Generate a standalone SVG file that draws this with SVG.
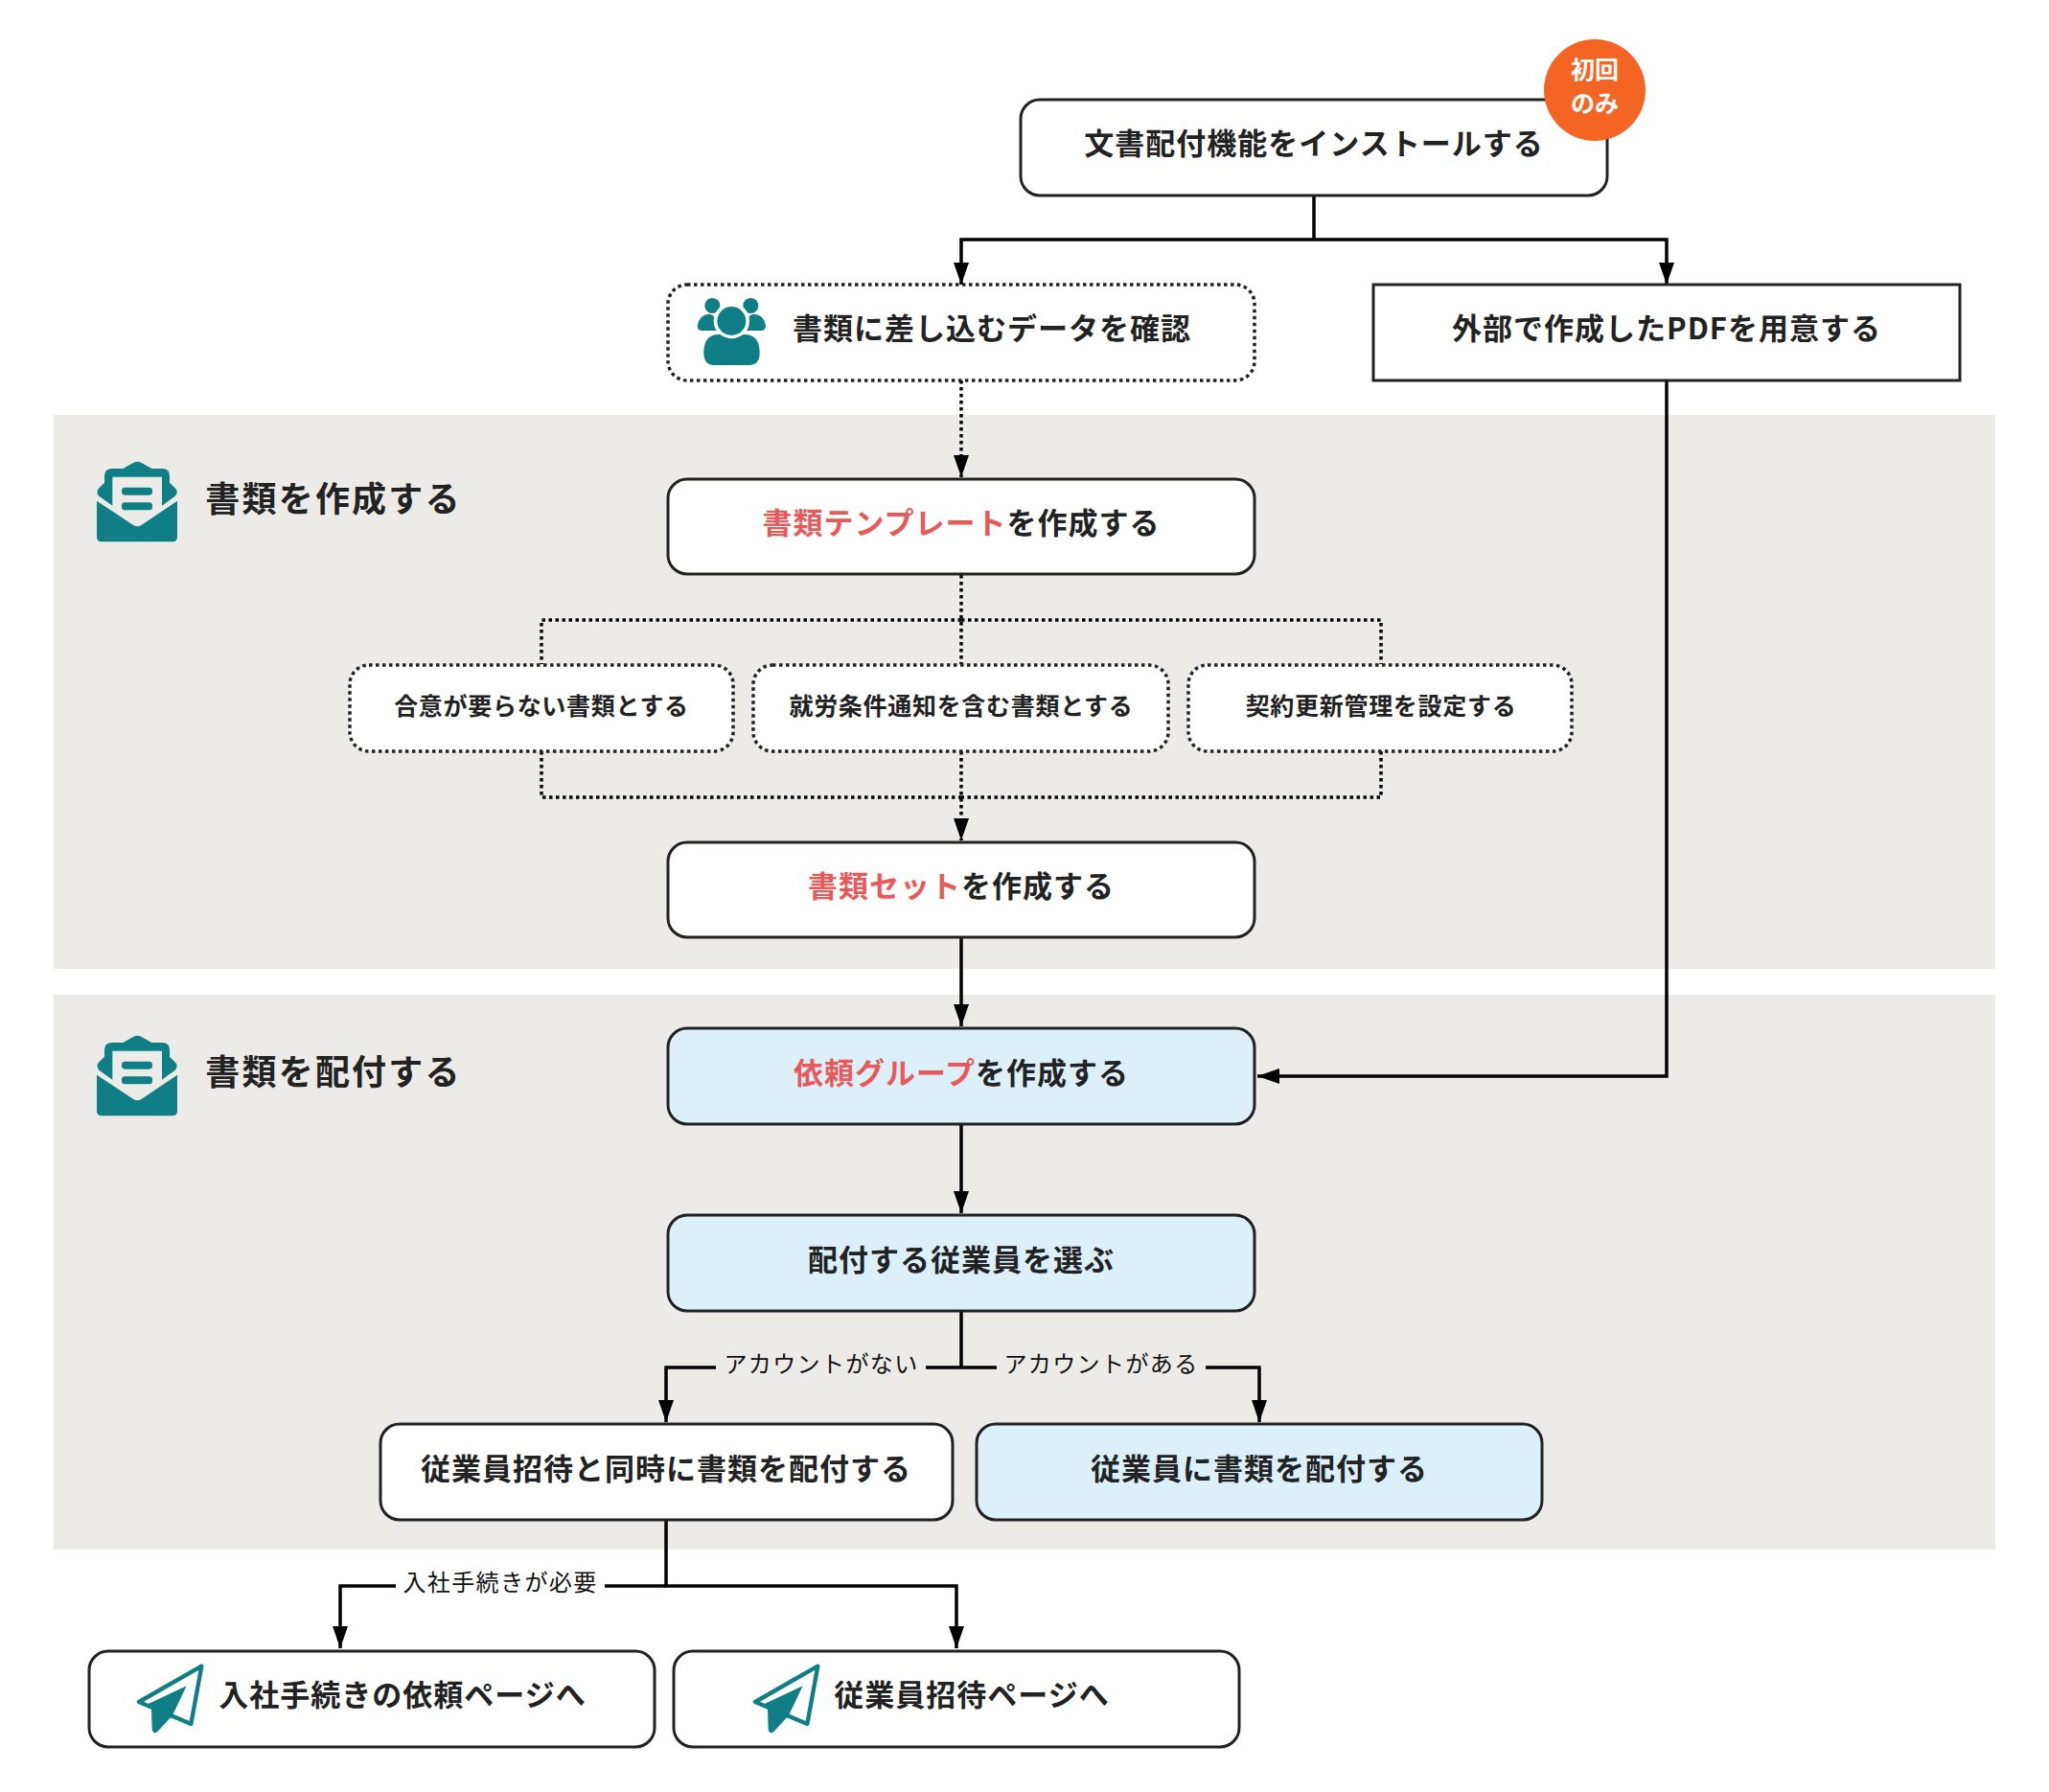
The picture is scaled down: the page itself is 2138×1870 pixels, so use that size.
<svg xmlns="http://www.w3.org/2000/svg" xmlns:xlink="http://www.w3.org/1999/xlink" width="2138" height="1870" viewBox="0 0 2138 1870">
<style>
text{font-family:"Noto Sans CJK JP","Noto Sans",sans-serif;fill:#222;text-anchor:middle}
.t{font-size:31px;font-weight:700;letter-spacing:1px}
.s{font-size:25px;font-weight:700;letter-spacing:.7px}
.h{font-size:36px;font-weight:700;letter-spacing:2.2px}
.l{font-size:24px;font-weight:400;letter-spacing:1.4px;fill:#111}
.b{font-size:25px;font-weight:700;fill:#fff}
.red{fill:#e85a5a}
.box{fill:#fff;stroke:#222;stroke-width:3}
.blue{fill:#dcf0fa}
.dot{stroke-dasharray:3.5 3.5;stroke-width:3.5}
.band{fill:#ecebe7}
.c{fill:none;stroke:#000;stroke-width:3.5}
.teal{fill:#0f7f85}
</style>
<defs>
<marker id="arrow" markerUnits="userSpaceOnUse" markerWidth="25" markerHeight="18" refX="23" refY="9" orient="auto"><path d="M0 1L23 9L0 17Z" fill="#000"/></marker>
<g id="mail" transform="scale(.3333)">
<path class="teal" d="M110 8Q127-4 144 8L172 24H205Q228 24 228 47V68L245 85Q258 97 245 110L204 140V50H49V140L7 110Q-5 97 7 85L24 68V47Q24 24 47 24H82Z"/>
<path class="teal" d="M0 125L110 198Q127 212 144 198L252 125V238Q252 253 238 253H14Q0 253 0 238Z"/>
<rect class="teal" x="78" y="83" width="96" height="24" rx="10"/>
<rect class="teal" x="78" y="130" width="96" height="24" rx="10"/>
</g>
<g id="plane" transform="scale(.3333)">
<path d="M205 8L9 120L172 189Z" fill="none" stroke="#0f7f85" stroke-width="13" stroke-linejoin="round"/>
<path class="teal" d="M158 70L30 130L48 142L50 208Q56 224 68 212L114 162Z"/>
</g>
</defs>
<g id="bands">
<rect class="band" x="56" y="433" width="2026" height="578"/>
<rect class="band" x="56" y="1038" width="2026" height="579"/>
</g>
<g id="connectors" class="connectors">
<path class="c" d="M1371 204V250"/>
<path class="c" d="M1371 250H1003V297" marker-end="url(#arrow)"/>
<path class="c" d="M1371 250H1739V297" marker-end="url(#arrow)"/>
<path class="c" d="M1739 397V1123H1312" marker-end="url(#arrow)"/>
<path class="c dot" d="M1003 397V498" marker-end="url(#arrow)"/>
<path class="c dot" d="M1003 600V693"/>
<path class="c dot" d="M1003 647H565V693"/>
<path class="c dot" d="M1003 647H1441V693"/>
<path class="c dot" d="M565 784V832H1003"/>
<path class="c dot" d="M1441 784V832H1003"/>
<path class="c dot" d="M1003 784V877" marker-end="url(#arrow)"/>
<path class="c" d="M1003 978V1071" marker-end="url(#arrow)"/>
<path class="c" d="M1003 1173V1266" marker-end="url(#arrow)"/>
<path class="c" d="M1003 1368V1427"/>
<path class="c" d="M966 1427H1040"/>
<path class="c" d="M747 1427H695V1484" marker-end="url(#arrow)"/>
<path class="c" d="M1258 1427H1314V1484" marker-end="url(#arrow)"/>
<path class="c" d="M695 1586V1655H998V1720" marker-end="url(#arrow)"/>
<path class="c" d="M695 1655H631"/>
<path class="c" d="M413 1655H355V1720" marker-end="url(#arrow)"/>
<text class="l" x="857" y="1432">アカウントがない</text>
<text class="l" x="1149" y="1432">アカウントがある</text>
<text class="l" x="522" y="1660">入社手続きが必要</text>
</g>
<g id="node-install">
<rect class="box" x="1065" y="104" width="612" height="100" rx="20"/>
<text class="t" x="1371" y="161">文書配付機能をインストールする</text>
</g>
<g id="badge-first">
<circle cx="1664" cy="94" r="53" fill="#f46524"/>
<text class="b" x="1664" y="82">初回</text>
<text class="b" x="1664" y="117">のみ</text>
</g>
<g id="node-data">
<rect class="box dot" x="697" y="297" width="612" height="100" rx="20"/>
<g transform="translate(680 280) scale(.3333)">
<circle class="teal" cx="190" cy="117" r="24"/>
<circle class="teal" cx="310" cy="117" r="24"/>
<path class="teal" d="M143 180Q148 145 180 143Q205 145 205 195H158Q143 195 143 180Z"/>
<path class="teal" d="M357 180Q352 145 320 143Q295 145 295 195H342Q357 195 357 180Z"/>
<circle cx="250" cy="165" r="56" fill="#fff"/>
<circle class="teal" cx="250" cy="165" r="45"/>
<path d="M163 265Q163 205 213 207Q250 232 287 207Q338 205 338 265Q338 303 305 303H195Q163 303 163 265Z" fill="#0f7f85"/>
</g>
<text class="t" x="1035" y="354">書類に差し込むデータを確認</text>
</g>
<g id="node-pdf">
<rect class="box" x="1433" y="297" width="612" height="100"/>
<text class="t" x="1739" y="354">外部で作成したPDFを用意する</text>
</g>
<g id="section-create">
<use xlink:href="#mail" href="#mail" transform="translate(101 481)"/>
<text class="h" x="348" y="534">書類を作成する</text>
</g>
<g id="node-template">
<rect class="box" x="697" y="500" width="612" height="99" rx="20"/>
<text class="t" x="1003" y="557"><tspan class="red">書類テンプレート</tspan>を作成する</text>
</g>
<g id="node-opt1">
<rect class="box dot" x="365" y="694" width="400" height="90" rx="20"/>
<text class="s" x="565" y="746">合意が要らない書類とする</text>
</g>
<g id="node-opt2">
<rect class="box dot" x="786" y="694" width="433" height="90" rx="20"/>
<text class="s" x="1003" y="746">就労条件通知を含む書類とする</text>
</g>
<g id="node-opt3">
<rect class="box dot" x="1240" y="694" width="400" height="90" rx="20"/>
<text class="s" x="1441" y="746">契約更新管理を設定する</text>
</g>
<g id="node-set">
<rect class="box" x="697" y="879" width="612" height="99" rx="20"/>
<text class="t" x="1003" y="936"><tspan class="red">書類セット</tspan>を作成する</text>
</g>
<g id="section-deliver">
<use xlink:href="#mail" href="#mail" transform="translate(101 1080)"/>
<text class="h" x="348" y="1132">書類を配付する</text>
</g>
<g id="node-group">
<rect class="box blue" x="697" y="1073" width="612" height="100" rx="20"/>
<text class="t" x="1003" y="1131"><tspan class="red">依頼グループ</tspan>を作成する</text>
</g>
<g id="node-select">
<rect class="box blue" x="697" y="1268" width="612" height="100" rx="20"/>
<text class="t" x="1003" y="1326">配付する従業員を選ぶ</text>
</g>
<g id="node-invite">
<rect class="box" x="397" y="1486" width="597" height="100" rx="20"/>
<text class="t" x="695" y="1544">従業員招待と同時に書類を配付する</text>
</g>
<g id="node-send">
<rect class="box blue" x="1019" y="1486" width="590" height="100" rx="20"/>
<text class="t" x="1314" y="1544">従業員に書類を配付する</text>
</g>
<g id="node-onboarding">
<rect class="box" x="93" y="1723" width="590" height="100" rx="20"/>
<use xlink:href="#plane" href="#plane" transform="translate(142 1736)"/>
<text class="t" x="420" y="1780">入社手続きの依頼ページへ</text>
</g>
<g id="node-invitepage">
<rect class="box" x="703" y="1723" width="590" height="100" rx="20"/>
<use xlink:href="#plane" href="#plane" transform="translate(785 1736)"/>
<text class="t" x="1014" y="1780">従業員招待ページへ</text>
</g>
</svg>
